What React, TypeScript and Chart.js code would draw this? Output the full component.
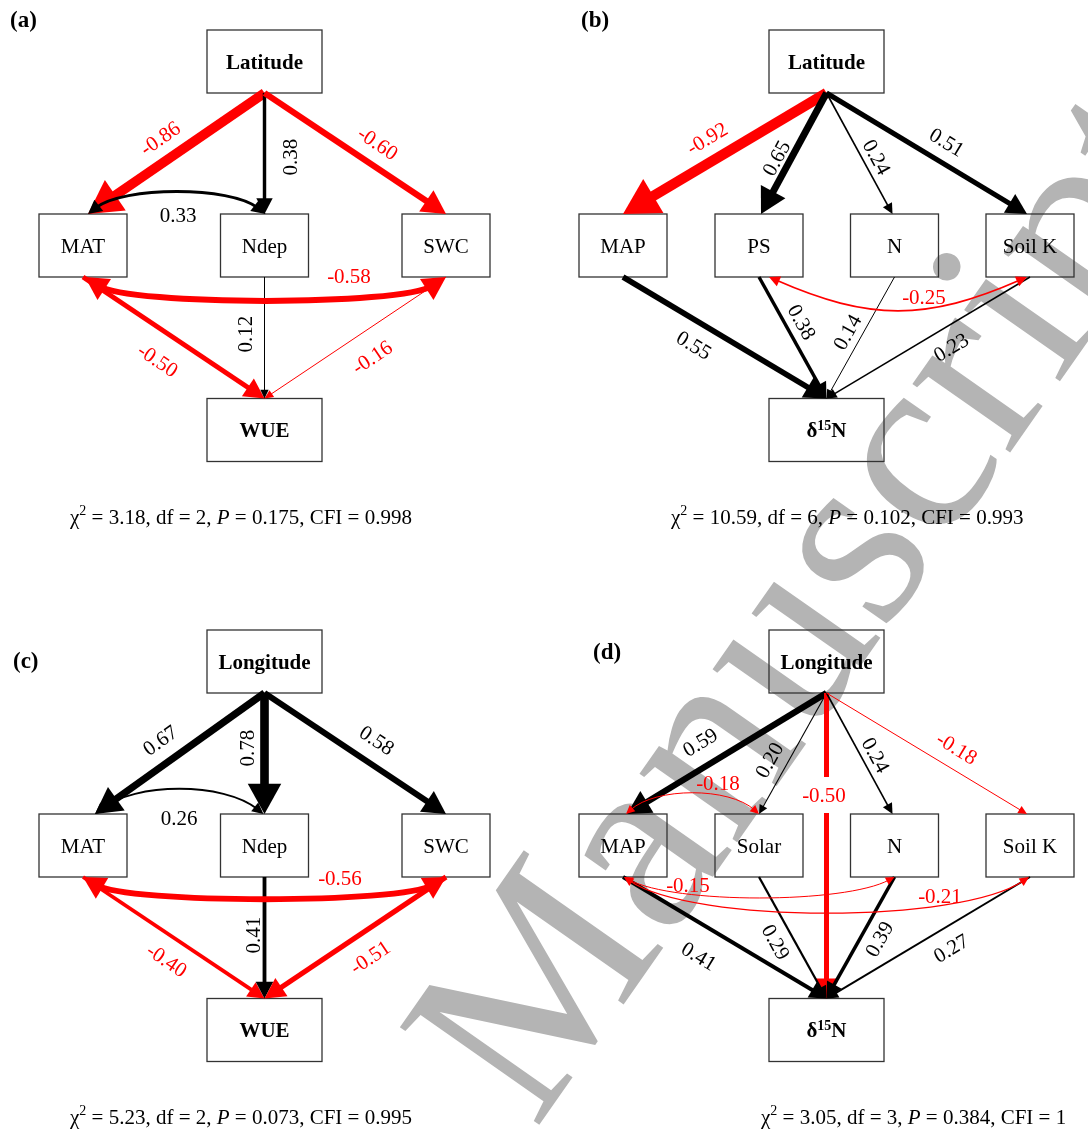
import React, { useEffect, useRef } from "react";
import { Chart, registerables } from "chart.js";

Chart.register(...registerables);

// ===================== DATA =====================
// Panel (a): latitude -> WUE
const A_NODES = ["Latitude", "MAT", "Ndep", "SWC", "WUE"];
const A_PATH_FROM = ["Latitude", "Latitude", "Latitude", "MAT", "Ndep", "SWC"];
const A_PATH_TO = ["MAT", "Ndep", "SWC", "WUE", "WUE", "WUE"];
const A_PATH_COEF = [-0.86, 0.38, -0.6, -0.5, 0.12, -0.16];
const A_COV_FROM = ["MAT", "MAT"];
const A_COV_TO = ["Ndep", "SWC"];
const A_COV_COEF = [0.33, -0.58];

// Panel (b): latitude -> δ15N
const B_NODES = ["Latitude", "MAP", "PS", "N", "Soil K", "δ15N"];
const B_PATH_FROM = ["Latitude", "Latitude", "Latitude", "Latitude", "MAP", "PS", "N", "Soil K"];
const B_PATH_TO = ["MAP", "PS", "N", "Soil K", "δ15N", "δ15N", "δ15N", "δ15N"];
const B_PATH_COEF = [-0.92, 0.65, 0.24, 0.51, 0.55, 0.38, 0.14, 0.23];
const B_COV_FROM = ["PS"];
const B_COV_TO = ["Soil K"];
const B_COV_COEF = [-0.25];

// Panel (c): longitude -> WUE
const C_NODES = ["Longitude", "MAT", "Ndep", "SWC", "WUE"];
const C_PATH_FROM = ["Longitude", "Longitude", "Longitude", "MAT", "Ndep", "SWC"];
const C_PATH_TO = ["MAT", "Ndep", "SWC", "WUE", "WUE", "WUE"];
const C_PATH_COEF = [0.67, 0.78, 0.58, -0.4, 0.41, -0.51];
const C_COV_FROM = ["MAT", "MAT"];
const C_COV_TO = ["Ndep", "SWC"];
const C_COV_COEF = [0.26, -0.56];

// Panel (d): longitude -> δ15N
const D_NODES = ["Longitude", "MAP", "Solar", "N", "Soil K", "δ15N"];
const D_PATH_FROM = ["Longitude", "Longitude", "Longitude", "Longitude", "Longitude", "MAP", "Solar", "N", "Soil K"];
const D_PATH_TO = ["MAP", "Solar", "δ15N", "N", "Soil K", "δ15N", "δ15N", "δ15N", "δ15N"];
const D_PATH_COEF = [0.59, 0.2, -0.5, 0.24, -0.18, 0.41, 0.29, 0.39, 0.27];
const D_COV_FROM = ["MAP", "MAP", "MAP"];
const D_COV_TO = ["Solar", "N", "Soil K"];
const D_COV_COEF = [-0.18, -0.15, -0.21];

// Model fit statistics
const PANEL_TAGS = ["(a)", "(b)", "(c)", "(d)"];
const FIT_CHI2 = ["3.18", "10.59", "5.23", "3.05"];
const FIT_DF = ["2", "6", "2", "3"];
const FIT_P = ["0.175", "0.102", "0.073", "0.384"];
const FIT_CFI = ["0.998", "0.993", "0.995", "1"];

const WATERMARK = "Manuscript";

// ===================== LAYOUT =====================
const FIG_W = 1088;
const FIG_H = 1129;
const PANEL_X0 = [0, 562, 0, 562];
const PANEL_Y0 = [0, 0, 600, 600];
const TAG_X = [10, 19, 13, 31];
const TAG_Y = [21, 21, 62, 53];
const FIT_X = [70, 109, 70, 199];
const FIT_Y = 518;

const TRI_X = [264.5, 83, 264.5, 446, 264.5];
const TRI_Y = [61.5, 245.5, 245.5, 245.5, 430];
const QUAD_X = [264.5, 61, 197, 332.5, 468, 264.5];
const QUAD_Y = [61.5, 245.5, 245.5, 245.5, 245.5, 430];
const OUTER_W = 115;
const INNER_W = 88;
const BOX_H = 63;

const A_PATH_LX = [160, 290, 378, 158, 245, 372];
const A_PATH_LY = [138, 157, 143, 360, 334, 357];
const A_PATH_ENDDX = [5, 0, 0, 0, 0, 0];
const A_COV_LX = [178, 349];
const A_COV_LY = [215, 276];
// [side(-1 top / +1 bottom), dx0, dx1, inset0, depth0, inset1, depth1]
const A_COV_GEOM = [
  [-1, 5, 1, 35, 28, 35, 28],
  [1, 2, 0, 45, 29, 45, 29],
];

const B_PATH_LX = [145, 214, 315, 385, 132, 240, 285, 389];
const B_PATH_LY = [138, 158, 157, 142, 345, 322, 332, 347];
const B_PATH_ENDDX = [0, 2, -2, -3, 0, 0, 0, 0];
const B_COV_LX = [362];
const B_COV_LY = [297];
const B_COV_GEOM = [[1, 10, -3, 100, 44, 100, 44]];

const C_PATH_LX = [160, 247, 377, 167, 253, 370];
const C_PATH_LY = [140, 148, 140, 360, 335, 357];
const C_PATH_ENDDX = [12, 0, 0, 0, 0, 0];
const C_COV_LX = [179, 340];
const C_COV_LY = [218, 278];
const C_COV_GEOM = [
  [-1, 12, -1, 40, 32, 40, 32],
  [1, 0, 0, 45, 27, 45, 27],
];

const D_PATH_LX = [138, 207, 262, 314, 395, 137, 214, 317, 389];
const D_PATH_LY = [142, 160, 195, 155, 148, 356, 342, 339, 348];
const D_PATH_ENDDX = [4, 0, 0, -2, -3, 0, 0, 0, 0];
const D_PATH_GAP = [false, false, true, false, false, false, false, false, false];
const D_COV_LX = [156, 126, 378];
const D_COV_LY = [183, 285, 296];
const D_COV_GEOM = [
  [-1, 3, 0, 30, 27, 30, 27],
  [1, 1, 0, 50, 27, 50, 27],
  [1, 1, -1, 70, 47, 70, 47],
];

const SERIF = '"Liberation Serif", "Times New Roman", Times, serif';
const RED = "#ff0000";
const BLACK = "#000000";
const BOX_COLOR = "#333333";
const WM_COLOR = "#b4b4b4";

type PanelSpec = {
  nodes: string[];
  nodeX: number[];
  nodeY: number[];
  pFrom: string[];
  pTo: string[];
  pCoef: number[];
  pLX: number[];
  pLY: number[];
  pEndDx: number[];
  pGap?: boolean[];
  cFrom: string[];
  cTo: string[];
  cCoef: number[];
  cLX: number[];
  cLY: number[];
  cGeom: number[][];
};

const PANELS: PanelSpec[] = [
  {
    nodes: A_NODES, nodeX: TRI_X, nodeY: TRI_Y,
    pFrom: A_PATH_FROM, pTo: A_PATH_TO, pCoef: A_PATH_COEF, pLX: A_PATH_LX, pLY: A_PATH_LY, pEndDx: A_PATH_ENDDX,
    cFrom: A_COV_FROM, cTo: A_COV_TO, cCoef: A_COV_COEF, cLX: A_COV_LX, cLY: A_COV_LY, cGeom: A_COV_GEOM,
  },
  {
    nodes: B_NODES, nodeX: QUAD_X, nodeY: QUAD_Y,
    pFrom: B_PATH_FROM, pTo: B_PATH_TO, pCoef: B_PATH_COEF, pLX: B_PATH_LX, pLY: B_PATH_LY, pEndDx: B_PATH_ENDDX,
    cFrom: B_COV_FROM, cTo: B_COV_TO, cCoef: B_COV_COEF, cLX: B_COV_LX, cLY: B_COV_LY, cGeom: B_COV_GEOM,
  },
  {
    nodes: C_NODES, nodeX: TRI_X, nodeY: TRI_Y,
    pFrom: C_PATH_FROM, pTo: C_PATH_TO, pCoef: C_PATH_COEF, pLX: C_PATH_LX, pLY: C_PATH_LY, pEndDx: C_PATH_ENDDX,
    cFrom: C_COV_FROM, cTo: C_COV_TO, cCoef: C_COV_COEF, cLX: C_COV_LX, cLY: C_COV_LY, cGeom: C_COV_GEOM,
  },
  {
    nodes: D_NODES, nodeX: QUAD_X, nodeY: QUAD_Y,
    pFrom: D_PATH_FROM, pTo: D_PATH_TO, pCoef: D_PATH_COEF, pLX: D_PATH_LX, pLY: D_PATH_LY, pEndDx: D_PATH_ENDDX, pGap: D_PATH_GAP,
    cFrom: D_COV_FROM, cTo: D_COV_TO, cCoef: D_COV_COEF, cLX: D_COV_LX, cLY: D_COV_LY, cGeom: D_COV_GEOM,
  },
];

// ===================== DRAWING HELPERS =====================
type Run = { t: string; size: number; bold?: boolean; italic?: boolean; dy?: number };

function fontOf(r: Run) {
  return `${r.italic ? "italic " : ""}${r.bold ? "bold " : ""}${r.size}px ${SERIF}`;
}

function runsWidth(ctx: CanvasRenderingContext2D, runs: Run[]) {
  let w = 0;
  for (const r of runs) {
    ctx.font = fontOf(r);
    w += ctx.measureText(r.t).width;
  }
  return w;
}

function drawRuns(ctx: CanvasRenderingContext2D, runs: Run[], x: number, y: number, color: string) {
  let cx = x;
  ctx.fillStyle = color;
  ctx.textAlign = "left";
  ctx.textBaseline = "middle";
  for (const r of runs) {
    ctx.font = fontOf(r);
    ctx.fillText(r.t, cx, y + (r.dy || 0));
    cx += ctx.measureText(r.t).width;
  }
}

function nodeRuns(name: string, bold: boolean): Run[] {
  if (name === "δ15N") {
    return [
      { t: "δ", size: 21, bold: true },
      { t: "15", size: 14, bold: true, dy: -6 },
      { t: "N", size: 21, bold: true },
    ];
  }
  return [{ t: name, size: 21, bold }];
}

function widthOf(c: number) {
  return Math.max(1, 13 * Math.abs(c) - 1.5);
}

function headDims(lw: number) {
  return [6 + 2.8 * lw, 2.5 + 1.65 * lw];
}

function drawHead(ctx: CanvasRenderingContext2D, tx: number, ty: number, ang: number, lw: number, color: string) {
  const [hl, hw] = headDims(lw);
  const c = Math.cos(ang);
  const s = Math.sin(ang);
  const bx = tx - c * hl;
  const by = ty - s * hl;
  ctx.beginPath();
  ctx.moveTo(tx, ty);
  ctx.lineTo(bx - s * hw, by + c * hw);
  ctx.lineTo(bx + s * hw, by - c * hw);
  ctx.closePath();
  ctx.fillStyle = color;
  ctx.fill();
}

function drawArrow(ctx: CanvasRenderingContext2D, x0: number, y0: number, x1: number, y1: number, lw: number, color: string) {
  const ang = Math.atan2(y1 - y0, x1 - x0);
  const [hl] = headDims(lw);
  const ex = x1 - Math.cos(ang) * hl * 0.7;
  const ey = y1 - Math.sin(ang) * hl * 0.7;
  ctx.strokeStyle = color;
  ctx.lineWidth = lw;
  ctx.lineCap = "butt";
  ctx.beginPath();
  ctx.moveTo(x0, y0);
  ctx.lineTo(ex, ey);
  ctx.stroke();
  drawHead(ctx, x1, y1, ang, lw, color);
}

function drawCurve(
  ctx: CanvasRenderingContext2D,
  p0: number[], p1: number[], p2: number[], p3: number[],
  lw: number, color: string
) {
  const [hl] = headDims(lw);
  const a0 = Math.atan2(p0[1] - p1[1], p0[0] - p1[0]);
  const a3 = Math.atan2(p3[1] - p2[1], p3[0] - p2[0]);
  const s0 = [p0[0] - Math.cos(a0) * hl * 0.7, p0[1] - Math.sin(a0) * hl * 0.7];
  const s3 = [p3[0] - Math.cos(a3) * hl * 0.7, p3[1] - Math.sin(a3) * hl * 0.7];
  ctx.strokeStyle = color;
  ctx.lineWidth = lw;
  ctx.lineCap = "butt";
  ctx.beginPath();
  ctx.moveTo(s0[0], s0[1]);
  ctx.bezierCurveTo(p1[0], p1[1], p2[0], p2[1], s3[0], s3[1]);
  ctx.stroke();
  drawHead(ctx, p0[0], p0[1], a0, lw, color);
  drawHead(ctx, p3[0], p3[1], a3, lw, color);
}

function drawLabel(ctx: CanvasRenderingContext2D, text: string, x: number, y: number, ang: number, color: string) {
  ctx.save();
  ctx.translate(x, y);
  ctx.rotate(ang);
  ctx.font = `21px ${SERIF}`;
  ctx.textAlign = "center";
  ctx.textBaseline = "middle";
  ctx.fillStyle = color;
  ctx.fillText(text, 0, 1.5);
  ctx.restore();
}

function fmt(c: number) {
  return c.toFixed(2);
}

// ===================== PLUGIN =====================
const diagramPlugin = {
  id: "semDiagram",
  beforeDatasetsDraw(chart: any) {
    const ctx: CanvasRenderingContext2D = chart.ctx;
    const xs = chart.scales.x;
    const ys = chart.scales.y;
    ctx.save();
    ctx.fillStyle = "#ffffff";
    ctx.fillRect(0, 0, chart.width, chart.height);
    // watermark behind the diagram
    ctx.translate(xs.getPixelForValue(535), ys.getPixelForValue(1131));
    ctx.rotate((-55 * Math.PI) / 180);
    ctx.font = `260px ${SERIF}`;
    ctx.fillStyle = WM_COLOR;
    ctx.textAlign = "left";
    ctx.textBaseline = "alphabetic";
    ctx.fillText(WATERMARK, 0, 0);
    ctx.restore();
  },
  afterDatasetsDraw(chart: any) {
    const ctx: CanvasRenderingContext2D = chart.ctx;
    const xs = chart.scales.x;
    const ys = chart.scales.y;
    ctx.save();
    PANELS.forEach((pn, pi) => {
      const ox = PANEL_X0[pi];
      const oy = PANEL_Y0[pi];
      const X = (v: number) => xs.getPixelForValue(v + ox);
      const Y = (v: number) => ys.getPixelForValue(v + oy);
      const last = pn.nodes.length - 1;
      const idx = (n: string) => pn.nodes.indexOf(n);
      const boxW = (i: number) => (i === 0 || i === last ? OUTER_W : INNER_W);

      // panel tag
      drawRuns(ctx, [{ t: PANEL_TAGS[pi], size: 23, bold: true }], X(TAG_X[pi]), Y(TAG_Y[pi]), BLACK);

      // node boxes
      pn.nodes.forEach((name, i) => {
        const w = boxW(i);
        const cx = pn.nodeX[i];
        const cy = pn.nodeY[i];
        ctx.strokeStyle = BOX_COLOR;
        ctx.lineWidth = 1.3;
        const l = X(cx - w / 2);
        const r = X(cx + w / 2);
        const t = Y(cy - BOX_H / 2);
        const b = Y(cy + BOX_H / 2);
        ctx.strokeRect(l, t, r - l, b - t);
        const runs = nodeRuns(name, i === 0 || i === last);
        const tw = runsWidth(ctx, runs);
        drawRuns(ctx, runs, X(cx) - tw / 2, Y(cy) + 2, BLACK);
      });

      // directed paths
      pn.pFrom.forEach((from, k) => {
        const a = idx(from);
        const b = idx(pn.pTo[k]);
        const coef = pn.pCoef[k];
        const color = coef < 0 ? RED : BLACK;
        const lw = widthOf(coef);
        const x0 = X(pn.nodeX[a]);
        const y0 = Y(pn.nodeY[a] + BOX_H / 2);
        const x1 = X(pn.nodeX[b] + pn.pEndDx[k]);
        const y1 = Y(pn.nodeY[b] - BOX_H / 2);
        drawArrow(ctx, x0, y0, x1, y1, lw, color);
        const lx = X(pn.pLX[k]);
        const ly = Y(pn.pLY[k]);
        if (pn.pGap && pn.pGap[k]) {
          ctx.fillStyle = "#ffffff";
          ctx.fillRect(x0 - lw / 2 - 1, ly - 18, lw + 2, 36);
          drawLabel(ctx, fmt(coef), lx, ly, 0, color);
        } else {
          let ang = Math.atan2(y1 - y0, x1 - x0);
          if (ang >= Math.PI / 2 - 1e-6) ang -= Math.PI;
          if (ang < -Math.PI / 2 - 1e-6) ang += Math.PI;
          drawLabel(ctx, fmt(coef), lx, ly, ang, color);
        }
      });

      // covariances (double-headed curves)
      pn.cFrom.forEach((from, k) => {
        const a = idx(from);
        const b = idx(pn.cTo[k]);
        const coef = pn.cCoef[k];
        const color = coef < 0 ? RED : BLACK;
        const lw = widthOf(coef);
        const g = pn.cGeom[k];
        const side = g[0];
        const ey = pn.nodeY[a] + (side * BOX_H) / 2;
        const p0 = [X(pn.nodeX[a] + g[1]), Y(ey)];
        const p3 = [X(pn.nodeX[b] + g[2]), Y(ey)];
        const p1 = [X(pn.nodeX[a] + g[1] + g[3]), Y(ey + side * g[4])];
        const p2 = [X(pn.nodeX[b] + g[2] - g[5]), Y(ey + side * g[6])];
        drawCurve(ctx, p0, p1, p2, p3, lw, color);
        drawLabel(ctx, fmt(coef), X(pn.cLX[k]), Y(pn.cLY[k]), 0, color);
      });

      // fit statistics
      const fitRuns: Run[] = [
        { t: "χ", size: 21 },
        { t: "2", size: 14, dy: -7 },
        { t: ` = ${FIT_CHI2[pi]}, df = ${FIT_DF[pi]}, `, size: 21 },
        { t: "P", size: 21, italic: true },
        { t: ` = ${FIT_P[pi]}, CFI = ${FIT_CFI[pi]}`, size: 21 },
      ];
      drawRuns(ctx, fitRuns, X(FIT_X[pi]), Y(FIT_Y), BLACK);
    });
    ctx.restore();
  },
};

// ===================== COMPONENT =====================
export default function App() {
  const ref = useRef<HTMLCanvasElement | null>(null);

  useEffect(() => {
    const canvas = ref.current;
    if (!canvas) return;
    const nodePoints: { x: number; y: number }[] = [];
    PANELS.forEach((pn, pi) => {
      pn.nodes.forEach((_, i) => {
        nodePoints.push({ x: pn.nodeX[i] + PANEL_X0[pi], y: pn.nodeY[i] + PANEL_Y0[pi] });
      });
    });
    const chart = new Chart(canvas, {
      type: "scatter",
      data: {
        datasets: [
          {
            label: "nodes",
            data: nodePoints,
            pointRadius: 0,
            pointHoverRadius: 0,
            showLine: false,
          },
        ],
      },
      options: {
        animation: false,
        responsive: false,
        maintainAspectRatio: false,
        devicePixelRatio: 1,
        events: [],
        layout: { padding: 0 },
        plugins: {
          legend: { display: false },
          tooltip: { enabled: false },
          title: { display: false },
        },
        scales: {
          x: { type: "linear", min: 0, max: FIG_W, display: false },
          y: { type: "linear", min: 0, max: FIG_H, reverse: true, display: false },
        },
      },
      plugins: [diagramPlugin],
    } as any);
    return () => chart.destroy();
  }, []);

  return (
    <div style={{ position: "absolute", left: 0, top: 0, width: FIG_W, height: FIG_H, background: "#ffffff" }}>
      <canvas ref={ref} width={FIG_W} height={FIG_H} style={{ display: "block", width: FIG_W, height: FIG_H }} />
    </div>
  );
}
